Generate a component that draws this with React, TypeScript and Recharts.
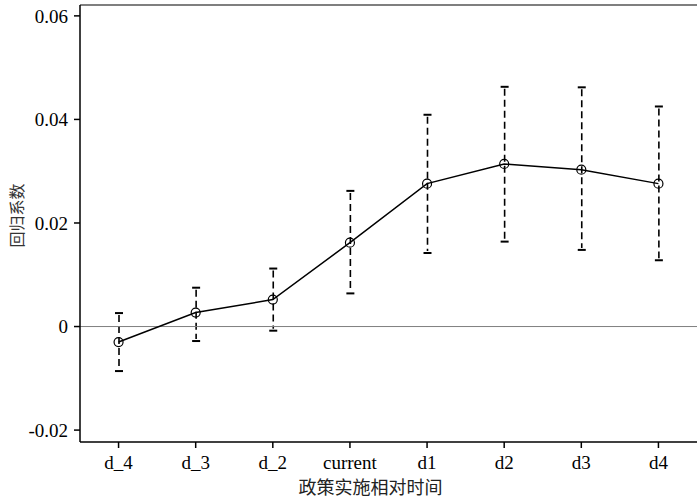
import {
  ComposedChart,
  Line,
  Bar,
  XAxis,
  YAxis,
  ReferenceLine,
} from "recharts"

// periods relative to the policy
const periods = ["d_4", "d_3", "d_2", "current", "d1", "d2", "d3", "d4"]
// point estimates
const coefs = [-0.003, 0.0027, 0.0052, 0.0162, 0.0276, 0.0314, 0.0303, 0.0276]
// confidence interval bounds
const lower = [-0.0086, -0.0028, -0.0008, 0.0064, 0.0142, 0.0164, 0.0148, 0.0128]
const upper = [0.0026, 0.0075, 0.0112, 0.0262, 0.0409, 0.0463, 0.0462, 0.0425]
const yTicks = [-0.02, 0, 0.02, 0.04, 0.06]

const data = periods.map((p, i) => ({
  period: p,
  coef: coefs[i],
  range: [lower[i], upper[i]],
}))

const serif = "'Liberation Serif', 'Times New Roman', serif"
const cjk = "'Noto Sans CJK SC', sans-serif"

// dashed whisker with solid caps, drawn from the bar's own box
function Whisker(props: any) {
  const { x, y, width, height } = props
  const cx = x + width / 2
  return (
    <g stroke="#000" fill="none">
      <line x1={cx} x2={cx} y1={y + 2} y2={y + height - 2} strokeWidth={1.6} strokeDasharray="7 4" />
      <line x1={x} x2={x + width} y1={y} y2={y} strokeWidth={2} />
      <line x1={x} x2={x + width} y1={y + height} y2={y + height} strokeWidth={2} />
    </g>
  )
}

export default function App() {
  return (
    <div style={{ width: 700, height: 503, background: "#fff" }}>
      <style>{"body{margin:0}"}</style>
      <ComposedChart width={700} height={503} data={data} margin={{ top: 4, right: 3, bottom: 0, left: 0 }}>
        <XAxis
          dataKey="period"
          height={61}
          tickSize={6}
          tickMargin={8}
          axisLine={{ stroke: "#000", strokeWidth: 1.5 }}
          tickLine={{ stroke: "#000", strokeWidth: 1.5 }}
          tick={{ fill: "#000", fontSize: 19, fontFamily: serif }}
          interval={0}
          label={{
            content: ({ viewBox }: any) => (
              <text
                x={viewBox.x + viewBox.width / 2 - 18}
                y={viewBox.y + 52}
                textAnchor="middle"
                fontSize={18}
                fontFamily={cjk}
                fill="#222"
              >
                政策实施相对时间
              </text>
            ),
          }}
        />
        <XAxis xAxisId="top" dataKey="period" orientation="top" height={1} tick={false} tickLine={false} axisLine={{ stroke: "#000", strokeWidth: 1.2 }} />
        <YAxis
          domain={[-0.0223, 0.0621]}
          ticks={yTicks}
          allowDataOverflow
          width={80}
          tickSize={6}
          tickMargin={6}
          axisLine={{ stroke: "#000", strokeWidth: 1.5 }}
          tickLine={{ stroke: "#000", strokeWidth: 1.5 }}
          tick={{ fill: "#000", fontSize: 19, fontFamily: serif }}
          tickFormatter={(v: number) => (v === 0 ? "0" : v.toFixed(2))}
          label={{
            content: ({ viewBox }: any) => {
              const lx = viewBox.x + 16
              const ly = viewBox.y + viewBox.height / 2 - 8
              return (
                <text
                  x={lx}
                  y={ly}
                  transform={`rotate(-90 ${lx} ${ly})`}
                  textAnchor="middle"
                  dominantBaseline="central"
                  fontSize={16}
                  fontFamily={cjk}
                  fill="#333"
                >
                  回归系数
                </text>
              )
            },
          }}
        />
        <YAxis yAxisId="right" orientation="right" width={0} tick={false} tickLine={false} axisLine={{ stroke: "#000" }} />
        <ReferenceLine y={0} stroke="#7f7f7f" strokeWidth={1} />
        <Bar dataKey="range" barSize={8} shape={<Whisker />} isAnimationActive={false} />
        <Line
          dataKey="coef"
          stroke="#000"
          strokeWidth={1.5}
          dot={{ r: 4.5, fill: "none", stroke: "#000", strokeWidth: 1.2 }}
          activeDot={false}
          isAnimationActive={false}
        />
      </ComposedChart>
    </div>
  )
}
